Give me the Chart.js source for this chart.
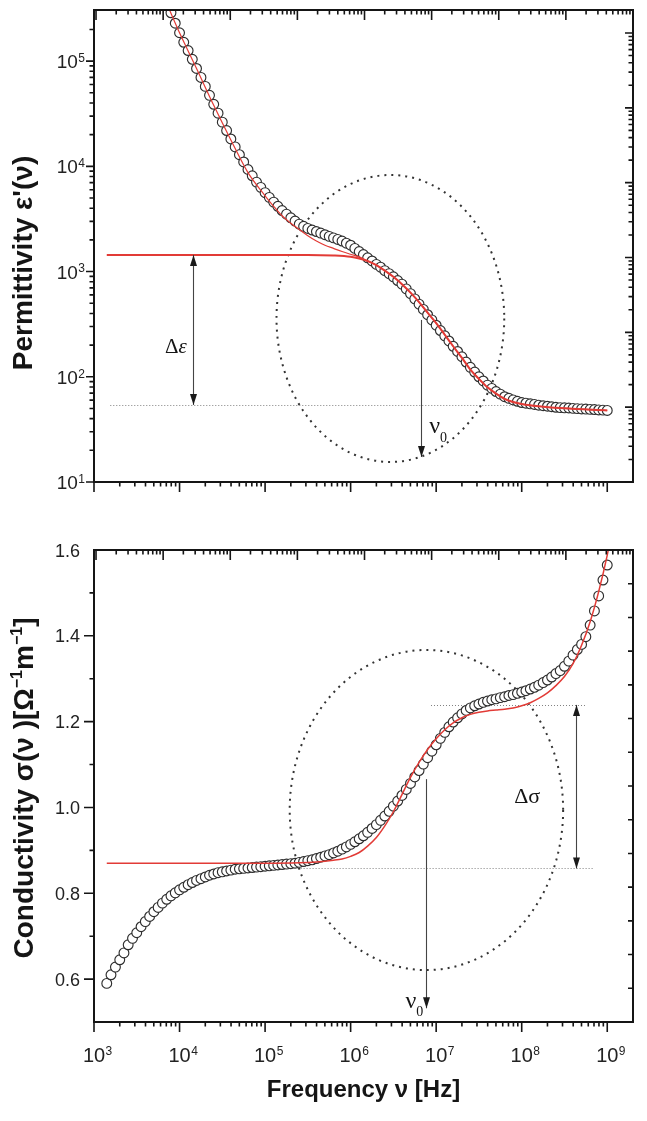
<!DOCTYPE html>
<html lang="en">
<head>
<meta charset="utf-8">
<title>Permittivity and conductivity spectra</title>
<script src="https://cdn.jsdelivr.net/npm/chart.js@4.4.1/dist/chart.umd.min.js"></script>
<style>
  html, body { margin: 0; padding: 0; background: #fff; }
  .panel { position: absolute; left: 0; }
</style>
</head>
<body>
<canvas id="permChart" class="panel" style="top:0" width="647" height="500"></canvas>
<canvas id="condChart" class="panel" style="top:500px" width="647" height="621"></canvas>
<script>
// measured frequencies (Hz), 20 points per decade
const freq = [
  1.41e3, 1.58e3, 1.78e3, 2.00e3, 2.24e3, 2.51e3, 2.82e3, 3.16e3, 3.55e3, 3.98e3,
  4.47e3, 5.01e3, 5.62e3, 6.31e3, 7.08e3, 7.94e3, 8.91e3,
  1.00e4, 1.12e4, 1.26e4, 1.41e4, 1.58e4, 1.78e4, 2.00e4, 2.24e4, 2.51e4, 2.82e4,
  3.16e4, 3.55e4, 3.98e4, 4.47e4, 5.01e4, 5.62e4, 6.31e4, 7.08e4, 7.94e4, 8.91e4,
  1.00e5, 1.12e5, 1.26e5, 1.41e5, 1.58e5, 1.78e5, 2.00e5, 2.24e5, 2.51e5, 2.82e5,
  3.16e5, 3.55e5, 3.98e5, 4.47e5, 5.01e5, 5.62e5, 6.31e5, 7.08e5, 7.94e5, 8.91e5,
  1.00e6, 1.12e6, 1.26e6, 1.41e6, 1.58e6, 1.78e6, 2.00e6, 2.24e6, 2.51e6, 2.82e6,
  3.16e6, 3.55e6, 3.98e6, 4.47e6, 5.01e6, 5.62e6, 6.31e6, 7.08e6, 7.94e6, 8.91e6,
  1.00e7, 1.12e7, 1.26e7, 1.41e7, 1.58e7, 1.78e7, 2.00e7, 2.24e7, 2.51e7, 2.82e7,
  3.16e7, 3.55e7, 3.98e7, 4.47e7, 5.01e7, 5.62e7, 6.31e7, 7.08e7, 7.94e7, 8.91e7,
  1.00e8, 1.12e8, 1.26e8, 1.41e8, 1.58e8, 1.78e8, 2.00e8, 2.24e8, 2.51e8, 2.82e8,
  3.16e8, 3.55e8, 3.98e8, 4.47e8, 5.01e8, 5.62e8, 6.31e8, 7.08e8, 7.94e8, 8.91e8,
  1.00e9
];

// real permittivity, open circles (off the top of the plot below ~8e3 Hz)
const permittivity = [
  null, null, null, null, null, null, null, null, null, null,
  null, null, null, null, null, 2.88e5, 2.29e5,
  1.86e5, 1.51e5, 1.26e5, 1.04e5, 8.51e4, 7.00e4, 5.75e4, 4.73e4, 3.89e4, 3.20e4,
  2.63e4, 2.19e4, 1.82e4, 1.53e4, 1.29e4, 1.10e4, 9.33e3, 8.13e3, 7.08e3, 6.31e3,
  5.62e3, 5.07e3, 4.57e3, 4.17e3, 3.80e3, 3.51e3, 3.24e3, 3.02e3, 2.82e3, 2.69e3,
  2.57e3, 2.48e3, 2.40e3, 2.32e3, 2.24e3, 2.16e3, 2.09e3, 2.02e3, 1.95e3, 1.86e3,
  1.78e3, 1.66e3, 1.55e3, 1.45e3, 1.35e3, 1.26e3, 1.17e3, 1.10e3, 1.02e3, 955,
  891, 822, 759, 684, 617, 550, 490, 437, 389, 347,
  309, 275, 245, 219, 195, 174, 155, 138, 123, 111,
  100, 91.2, 83.2, 77.6, 72.4, 68.4, 64.6, 62.4, 60.3, 58.5,
  56.9, 56.1, 55.3, 54.6, 53.7, 53.1, 52.5, 51.9, 51.3, 50.9,
  50.7, 50.5, 50.1, 49.8, 49.5, 49.3, 49.0, 48.8, 48.4, 48.2,
  47.9
];

// conductivity (Ohm^-1 m^-1), open circles
const conductivity = [
  0.590, 0.610, 0.628, 0.645, 0.661, 0.680, 0.695, 0.708, 0.722, 0.734,
  0.746, 0.757, 0.767, 0.777, 0.786, 0.794, 0.801,
  0.808, 0.814, 0.820, 0.825, 0.830, 0.834, 0.838, 0.842, 0.845, 0.848,
  0.850, 0.852, 0.854, 0.856, 0.857, 0.858, 0.859, 0.860, 0.861, 0.862,
  0.863, 0.864, 0.865, 0.866, 0.867, 0.868, 0.869, 0.870, 0.872, 0.874,
  0.876, 0.878, 0.881, 0.884, 0.887, 0.890, 0.894, 0.898, 0.903, 0.908,
  0.914, 0.920, 0.927, 0.934, 0.942, 0.951, 0.960, 0.970, 0.980, 0.991,
  1.003, 1.015, 1.028, 1.042, 1.056, 1.071, 1.086, 1.101, 1.116, 1.131,
  1.146, 1.161, 1.175, 1.188, 1.199, 1.209, 1.218, 1.226, 1.232, 1.237,
  1.241, 1.245, 1.248, 1.251, 1.253, 1.256, 1.258, 1.261, 1.263, 1.266,
  1.269, 1.272, 1.276, 1.280, 1.285, 1.291, 1.297, 1.304, 1.312, 1.319,
  1.329, 1.341, 1.355, 1.368, 1.380, 1.398, 1.425, 1.458, 1.493, 1.530,
  1.565
];

// red fit curves
const epsFitFreq = [
  7.41e3, 1e4, 1.58e4, 2.51e4, 3.98e4, 6.31e4, 1e5, 1.26e5, 1.58e5, 2.00e5,
  2.51e5, 3.16e5, 3.98e5, 5.01e5, 6.31e5, 7.94e5, 1e6, 1.26e6, 1.58e6, 2.00e6,
  2.51e6, 3.16e6, 3.98e6, 5.01e6, 6.31e6, 7.94e6, 1e7, 1.26e7, 1.58e7, 2.00e7,
  2.51e7, 3.16e7, 3.98e7, 5.01e7, 6.31e7, 7.94e7, 1e8, 1.58e8, 3.16e8, 1e9
];
const epsFit = [
  3.24e5, 1.86e5, 8.51e4, 3.80e4, 1.78e4, 8.71e3, 5.25e3, 4.17e3, 3.39e3, 2.88e3,
  2.51e3, 2.19e3, 1.95e3, 1.78e3, 1.66e3, 1.55e3, 1.46e3, 1.38e3, 1.26e3, 1.15e3,
  1.02e3, 891, 759, 631, 513, 407, 324, 251, 195, 151,
  117, 95.5, 79.4, 69.2, 61.7, 57.5, 55.0, 52.5, 50.1, 47.9
];
const relaxFitFreq = [
  1.41e3, 1e4, 1e5, 3.16e5, 6.31e5, 1e6, 1.26e6, 1.58e6, 2.00e6,
  2.51e6, 3.16e6, 3.98e6, 5.01e6, 6.31e6, 7.94e6, 1e7, 1.26e7, 1.58e7, 2.00e7,
  2.51e7, 3.16e7, 3.98e7, 5.01e7, 6.31e7, 7.94e7, 1e8, 1.58e8, 3.16e8, 1e9
];
const relaxFit = [
  1.44e3, 1.44e3, 1.44e3, 1.44e3, 1.42e3, 1.38e3, 1.33e3, 1.26e3, 1.15e3,
  1.02e3, 891, 759, 631, 513, 407, 324, 251, 195, 151,
  117, 95.5, 79.4, 69.2, 61.7, 57.5, 55.0, 52.5, 50.1, 47.9
];
const sigmaFitFreq = [
  1.41e3, 1e4, 1e5, 2.51e5, 3.98e5, 6.31e5, 7.94e5, 1e6, 1.26e6, 1.58e6,
  2.00e6, 2.51e6, 3.16e6, 3.98e6, 5.01e6, 6.31e6, 7.94e6, 1e7, 1.26e7, 1.58e7,
  2.00e7, 2.51e7, 3.16e7, 3.98e7, 5.01e7, 6.31e7, 7.94e7, 1e8, 1.26e8, 1.58e8,
  2.00e8, 2.51e8, 3.16e8, 3.98e8, 5.01e8, 6.31e8, 7.94e8, 1e9, 1.05e9
];
const sigmaFit = [
  0.870, 0.870, 0.870, 0.871, 0.873, 0.877, 0.880, 0.886, 0.895, 0.910,
  0.930, 0.957, 0.990, 1.030, 1.070, 1.105, 1.135, 1.160, 1.181, 1.197,
  1.209, 1.217, 1.222, 1.225, 1.227, 1.229, 1.232, 1.237, 1.244, 1.254,
  1.267, 1.284, 1.305, 1.335, 1.378, 1.433, 1.503, 1.588, 1.61
];

// axis ticks
const freqTicks = [1e3, 1e4, 1e5, 1e6, 1e7, 1e8, 1e9];
const epsTicks = [1e1, 1e2, 1e3, 1e4, 1e5];
const sigmaTicks = [0.6, 0.8, 1.0, 1.2, 1.4, 1.6];
const sigmaMinorTicks = [0.7, 0.9, 1.1, 1.3, 1.5];

const SANS = '"Liberation Sans", Arial, Helvetica, sans-serif';
const SERIF = '"Liberation Serif", "Times New Roman", serif';
const RED = '#e23b36';
const INK = '#151515';

function logMinors(lo, hi) {
  const out = [];
  for (let e = lo; e <= hi; e++) for (let m = 2; m <= 9; m++) out.push(m * Math.pow(10, e));
  return out;
}
function decades(lo, hi) {
  const out = [];
  for (let e = lo; e <= hi; e++) out.push(Math.pow(10, e));
  return out;
}

function drawFrame(chart) {
  const { ctx, chartArea: a } = chart;
  ctx.save();
  ctx.strokeStyle = INK;
  ctx.lineWidth = 2;
  ctx.strokeRect(a.left, a.top, a.right - a.left, a.bottom - a.top);
  ctx.restore();
}

function drawTicks(chart, id, values, len, edge) {
  const { ctx, chartArea: a } = chart;
  const s = chart.scales[id];
  ctx.save();
  ctx.strokeStyle = INK;
  ctx.lineWidth = 1.6;
  ctx.beginPath();
  values.forEach(v => {
    const p = s.getPixelForValue(v);
    if (s.isHorizontal()) {
      if (p < a.left - 0.5 || p > a.right + 0.5) return;
      const y0 = edge === 'top' ? a.top : a.bottom;
      ctx.moveTo(p, y0); ctx.lineTo(p, y0 + len);
    } else {
      if (p < a.top + 1 || p > a.bottom + 0.5) return;
      const x0 = edge === 'right' ? a.right : a.left;
      ctx.moveTo(x0, p); ctx.lineTo(x0 - len, p);
    }
  });
  ctx.stroke();
  ctx.restore();
}

// "10" with a raised exponent
function drawPower(ctx, exp, x, baseY, mode, size) {
  const cap = size * 0.716;
  ctx.font = size + 'px ' + SANS;
  const w10 = ctx.measureText('10').width;
  ctx.font = '12px ' + SANS;
  const we = ctx.measureText(String(exp)).width;
  const x0 = mode === 'right' ? x - w10 - we - 0.5 : x - w10 / 2;
  ctx.fillStyle = '#222';
  ctx.textAlign = 'left';
  ctx.textBaseline = 'alphabetic';
  ctx.font = size + 'px ' + SANS;
  ctx.fillText('10', x0, baseY);
  ctx.font = '12px ' + SANS;
  ctx.fillText(String(exp), x0 + w10 + 0.5, baseY - cap + 7.5);
}

// rich text run drawn along the baseline, optionally rotated
function drawRun(ctx, parts, cx, cy, rotate) {
  let total = 0;
  parts.forEach(p => { ctx.font = p.font; p.w = ctx.measureText(p.t).width; total += p.w; });
  ctx.save();
  ctx.translate(cx, cy);
  if (rotate) ctx.rotate(-Math.PI / 2);
  ctx.fillStyle = INK;
  ctx.textAlign = 'left';
  ctx.textBaseline = 'alphabetic';
  let x = -total / 2;
  parts.forEach(p => { ctx.font = p.font; ctx.fillText(p.t, x, p.dy || 0); x += p.w; });
  ctx.restore();
}

function dottedLine(chart, x0, x1, y) {
  const { ctx } = chart;
  const xs = chart.scales.x, ys = chart.scales.y;
  const py = Math.round(ys.getPixelForValue(y)) + 0.5;
  ctx.save();
  ctx.strokeStyle = '#808080';
  ctx.lineWidth = 1;
  ctx.setLineDash([1, 2]);
  ctx.beginPath();
  ctx.moveTo(xs.getPixelForValue(x0), py);
  ctx.lineTo(xs.getPixelForValue(x1), py);
  ctx.stroke();
  ctx.restore();
}

function dottedEllipse(chart, x0, x1, y0, y1) {
  const { ctx } = chart;
  const xs = chart.scales.x, ys = chart.scales.y;
  const l = xs.getPixelForValue(x0), r = xs.getPixelForValue(x1);
  const t = ys.getPixelForValue(y1), b = ys.getPixelForValue(y0);
  ctx.save();
  ctx.strokeStyle = '#333';
  ctx.lineWidth = 2;
  ctx.setLineDash([2, 5]);
  ctx.beginPath();
  ctx.ellipse((l + r) / 2, (t + b) / 2, (r - l) / 2, (b - t) / 2, 0, 0, Math.PI * 2);
  ctx.stroke();
  ctx.restore();
}

function arrowHead(ctx, x, y, dir) {
  ctx.beginPath();
  ctx.moveTo(x, y);
  ctx.lineTo(x - 3.5, y - dir * 11);
  ctx.lineTo(x + 3.5, y - dir * 11);
  ctx.closePath();
  ctx.fill();
}

function vArrow(chart, x, yFrom, yTo, both) {
  const { ctx } = chart;
  const px = Math.round(chart.scales.x.getPixelForValue(x)) + 0.5;
  const p0 = chart.scales.y.getPixelForValue(yFrom);
  const p1 = chart.scales.y.getPixelForValue(yTo);
  const dir = p1 > p0 ? 1 : -1;
  ctx.save();
  ctx.strokeStyle = '#444';
  ctx.fillStyle = '#1a1a1a';
  ctx.lineWidth = 1.1;
  ctx.beginPath();
  ctx.moveTo(px, p0);
  ctx.lineTo(px, p1);
  ctx.stroke();
  arrowHead(ctx, px, p1, dir);
  if (both) arrowHead(ctx, px, p0, -dir);
  ctx.restore();
}

function noteText(chart, x, y, parts, align) {
  const { ctx } = chart;
  let px = chart.scales.x.getPixelForValue(x);
  const py = chart.scales.y.getPixelForValue(y);
  let total = 0;
  parts.forEach(p => { ctx.font = p.font; p.w = ctx.measureText(p.t).width; total += p.w; });
  if (align === 'center') px -= total / 2;
  ctx.save();
  ctx.fillStyle = INK;
  ctx.textAlign = 'left';
  ctx.textBaseline = 'alphabetic';
  parts.forEach(p => { ctx.font = p.font; ctx.fillText(p.t, px, py + (p.dy || 0)); px += p.w; });
  ctx.restore();
}

const circleStyle = {
  showLine: false,
  pointRadius: 4.9,
  pointBorderWidth: 1.15,
  pointBorderColor: '#2e2e2e',
  pointBackgroundColor: '#ffffff',
  order: 2,
  clip: 0
};
const lineStyle = (w) => ({
  showLine: true,
  pointRadius: 0,
  borderColor: RED,
  borderWidth: w,
  cubicInterpolationMode: 'monotone',
  order: 0,
  clip: 0
});

const baseOptions = {
  responsive: false,
  animation: false,
  events: [],
  plugins: { legend: { display: false }, tooltip: { enabled: false } }
};

// ---------- permittivity panel ----------
const permDecor = {
  id: 'permDecor',
  beforeDatasetsDraw(chart) {
    dottedLine(chart, 1.55e3, 2.0e8, 54);
    dottedEllipse(chart, 1.36e5, 6.25e7, 15.5, 8.28e3);
  },
  afterDraw(chart) {
    const { ctx } = chart;
    drawFrame(chart);
    drawTicks(chart, 'x', freqTicks, 10, 'bottom');
    drawTicks(chart, 'x', logMinors(3, 8), 4.5, 'bottom');
    drawTicks(chart, 'y', epsTicks, 8, 'left');
    drawTicks(chart, 'y', logMinors(1, 5), 4.5, 'left');
    drawTicks(chart, 'x2', decades(1, 9), 10, 'top');
    drawTicks(chart, 'x2', logMinors(0, 8), 4.5, 'top');
    drawTicks(chart, 'y2', decades(0, 6), 8, 'right');
    drawTicks(chart, 'y2', logMinors(0, 6), 4.5, 'right');
    epsTicks.forEach(v => {
      const py = chart.scales.y.getPixelForValue(v);
      drawPower(ctx, Math.round(Math.log10(v)), 85, py + 7, 'right', 19);
    });
    vArrow(chart, 1.43e4, 1.44e3, 54, true);
    vArrow(chart, 6.71e6, 347, 17.3, false);
    noteText(chart, 9.06e3, 168, [
      { t: 'Δ', font: '21px ' + SERIF },
      { t: 'ε', font: 'italic 21px ' + SERIF }
    ], 'center');
    noteText(chart, 8.3e6, 29.3, [
      { t: 'ν', font: '24px ' + SERIF },
      { t: '0', font: '14px ' + SERIF, dy: 9 }
    ], 'left');
    drawRun(ctx, [{ t: 'Permittivity ε\'(ν)', font: 'bold 28px ' + SANS }], 32, 263, true);
  }
};

new Chart(document.getElementById('permChart'), {
  type: 'scatter',
  data: {
    datasets: [
      Object.assign({ data: relaxFitFreq.map((f, i) => ({ x: f, y: relaxFit[i] })) }, lineStyle(2)),
      Object.assign({ data: epsFitFreq.map((f, i) => ({ x: f, y: epsFit[i] })) }, lineStyle(1.2)),
      Object.assign({ data: freq.map((f, i) => ({ x: f, y: permittivity[i] })) }, circleStyle)
    ]
  },
  options: Object.assign({}, baseOptions, {
    layout: { padding: { left: 94, right: 14, top: 10, bottom: 18 } },
    scales: {
      x: { type: 'logarithmic', min: 1e3, max: 2e9, display: false },
      y: { type: 'logarithmic', min: 10, max: 3.06e5, display: false },
      x2: { type: 'logarithmic', position: 'top', min: 9.33, max: 1e9, display: false },
      y2: { type: 'logarithmic', position: 'right', min: 1, max: 2.03e6, display: false }
    }
  }),
  plugins: [permDecor]
});

// ---------- conductivity panel ----------
const condDecor = {
  id: 'condDecor',
  beforeDatasetsDraw(chart) {
    dottedLine(chart, 2.4e5, 7.0e8, 0.858);
    dottedLine(chart, 8.7e6, 5.6e8, 1.239);
    dottedEllipse(chart, 1.94e5, 3.05e8, 0.621, 1.367);
  },
  afterDraw(chart) {
    const { ctx, chartArea: a } = chart;
    drawFrame(chart);
    drawTicks(chart, 'x', freqTicks, 10, 'bottom');
    drawTicks(chart, 'x', logMinors(3, 8), 4.5, 'bottom');
    drawTicks(chart, 'y', sigmaTicks, 10, 'left');
    drawTicks(chart, 'y', sigmaMinorTicks, 4.5, 'left');
    drawTicks(chart, 'x2', decades(1, 9), 10, 'top');
    drawTicks(chart, 'x2', logMinors(0, 8), 4.5, 'top');
    drawTicks(chart, 'y2', [1, 2, 3, 4, 5, 6, 7, 8, 9, 10, 11, 12, 13], 5, 'right');
    freqTicks.forEach(v => {
      const px = chart.scales.x.getPixelForValue(v);
      drawPower(ctx, Math.round(Math.log10(v)), px, a.bottom + 40, 'center', 20);
    });
    ctx.save();
    ctx.fillStyle = '#222';
    ctx.font = '18px ' + SANS;
    ctx.textAlign = 'right';
    ctx.textBaseline = 'alphabetic';
    sigmaTicks.forEach(v => {
      ctx.fillText(v.toFixed(1), 80, chart.scales.y.getPixelForValue(v) + 6.5);
    });
    ctx.restore();
    vArrow(chart, 4.32e8, 1.239, 0.858, true);
    vArrow(chart, 7.69e6, 1.066, 0.532, false);
    noteText(chart, 1.16e8, 1.010, [{ t: 'Δσ', font: '22px ' + SERIF }], 'center');
    noteText(chart, 4.37e6, 0.532, [
      { t: 'ν', font: '24px ' + SERIF },
      { t: '0', font: '14px ' + SERIF, dy: 8 }
    ], 'left');
    drawRun(ctx, [
      { t: 'Conductivity σ(ν )[Ω', font: 'bold 28px ' + SANS },
      { t: '−1', font: 'bold 16px ' + SANS, dy: -11 },
      { t: 'm', font: 'bold 28px ' + SANS },
      { t: '−1', font: 'bold 16px ' + SANS, dy: -11 },
      { t: ']', font: 'bold 28px ' + SANS }
    ], 33, 288, true);
    drawRun(ctx, [{ t: 'Frequency ν [Hz]', font: 'bold 24px ' + SANS }], (a.left + a.right) / 2, 597, false);
  }
};

new Chart(document.getElementById('condChart'), {
  type: 'scatter',
  data: {
    datasets: [
      Object.assign({ data: sigmaFitFreq.map((f, i) => ({ x: f, y: sigmaFit[i] })) }, lineStyle(1.5)),
      Object.assign({ data: freq.map((f, i) => ({ x: f, y: conductivity[i] })) }, circleStyle)
    ]
  },
  options: Object.assign({}, baseOptions, {
    layout: { padding: { left: 94, right: 14, top: 50, bottom: 99 } },
    scales: {
      x: { type: 'logarithmic', min: 1e3, max: 2e9, display: false },
      y: { type: 'linear', min: 0.5, max: 1.6, display: false },
      x2: { type: 'logarithmic', position: 'top', min: 9.33, max: 1e9, display: false },
      y2: { type: 'linear', position: 'right', min: 0, max: 14, display: false }
    }
  }),
  plugins: [condDecor]
});
</script>
</body>
</html>
